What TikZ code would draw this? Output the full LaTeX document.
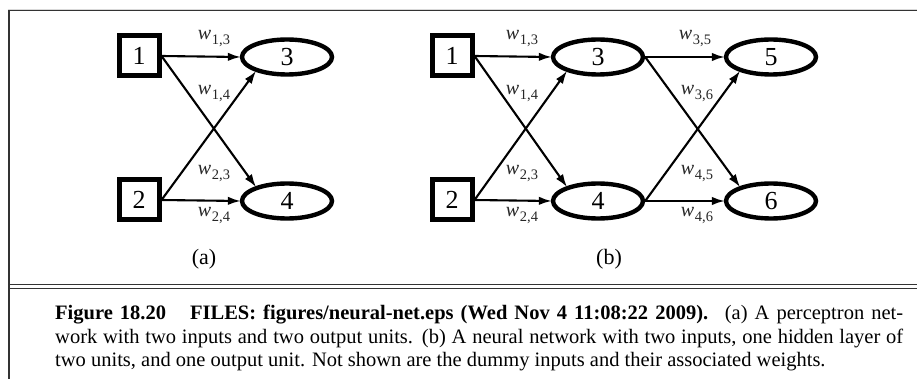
\documentclass[tikz,border=0pt]{standalone}
\usepackage{fontspec}
\setmainfont{Liberation Serif}
\usetikzlibrary{shapes.geometric,arrows.meta}

% weight label: italic w with a lowered index pair
\newcommand\wlab[2]{\textit{w}\kern0.6pt\raisebox{-5pt}{\fontsize{14.5}{14.5}\selectfont #1,#2}}

\tikzset{
  unitin/.style={draw, line width=5pt, rectangle, minimum size=40pt, inner sep=0pt,
    font=\fontsize{26}{26}\selectfont},
  unit/.style={draw, line width=4.4pt, ellipse, minimum width=90pt, minimum height=35pt,
    inner sep=0pt, font=\fontsize{26}{26}\selectfont},
  arr/.style={line width=2.1pt, -{Latex[length=13pt,width=8.5pt]}, shorten >=-1pt},
  wt/.style={inner sep=0pt, text=black!85, font=\fontsize{20}{20}\selectfont},
  sub/.style={inner sep=0pt, font=\fontsize{22}{22}\selectfont},
  captext/.style={inner sep=0pt, anchor=base west, font=\fontsize{20.5}{20.5}\selectfont},
  frame/.style={line width=1.3pt, black!80}
}

\begin{document}
\begin{tikzpicture}[x=1pt,y=-1pt]
\useasboundingbox (0,0) rectangle (917,379);

% outer frame and caption separator
\draw[black!15, line width=0.8pt] (7.5,9) -- (917,9);
\draw[frame] (8.5,10.5) -- (917,10.5);
\draw[frame] (9,10) -- (9,379);
\draw[frame, line width=1pt] (8.5,284) -- (917,284);
\draw[frame, line width=1pt] (8.5,288) -- (917,288);

% (a) perceptron
\node[unitin] (a1) at (139,56) {1};
\node[unitin] (a2) at (139,200) {2};
\node[unit] (a3) at (287,57) {3};
\node[unit] (a4) at (287,201) {4};
\draw[arr] (a1.east) -- (a3.west);
\draw[arr] (a1.east) -- (a4.155);
\draw[arr] (a2.east) -- (a3.205);
\draw[arr] (a2.east) -- (a4.west);
\node[wt] (la13) at (214,39) {\wlab{1}{3}};
\node[wt] (la14) at (214,94) {\wlab{1}{4}};
\node[wt] (la23) at (214,174) {\wlab{2}{3}};
\node[wt] (la24) at (214,216) {\wlab{2}{4}};
\node[sub] (la) at (204,259) {(a)};

% (b) network with one hidden layer
\node[unitin] (b1) at (452,56) {1};
\node[unitin] (b2) at (452,200) {2};
\node[unit] (b3) at (598,57) {3};
\node[unit] (b4) at (598,201) {4};
\node[unit] (b5) at (771,57) {5};
\node[unit] (b6) at (771,201) {6};
\draw[arr] (b1.east) -- (b3.west);
\draw[arr] (b1.east) -- (b4.155);
\draw[arr] (b2.east) -- (b3.205);
\draw[arr] (b2.east) -- (b4.west);
\draw[arr] (b3.east) -- (b5.west);
\draw[arr] (b3.east) -- (b6.155);
\draw[arr] (b4.east) -- (b5.205);
\draw[arr] (b4.east) -- (b6.west);
\node[wt] (lb13) at (522,39) {\wlab{1}{3}};
\node[wt] (lb14) at (522,94) {\wlab{1}{4}};
\node[wt] (lb23) at (522,174) {\wlab{2}{3}};
\node[wt] (lb24) at (522,216) {\wlab{2}{4}};
\node[wt] (lb35) at (695,39) {\wlab{3}{5}};
\node[wt] (lb36) at (697,94) {\wlab{3}{6}};
\node[wt] (lb45) at (697,174) {\wlab{4}{5}};
\node[wt] (lb46) at (697,216) {\wlab{4}{6}};
\node[sub] (lb) at (609,259) {(b)};

% caption
\node[captext] (c1) at (55,319) {\makebox[848pt][s]{\textbf{Figure 18.20}\hspace{24pt}\textbf{FILES: figures/neural-net.eps (Wed Nov 4 11:08:22 2009).}\hspace{4pt} (a) A perceptron net-}};
\node[captext] (c2) at (55,343) {\makebox[848pt][s]{work with two inputs and two output units. (b) A neural network with two inputs, one hidden layer of}};
\node[captext] (c3) at (55,366) {two units, and one output unit. Not shown are the dummy inputs and their associated weights.};
\end{tikzpicture}
\end{document}
